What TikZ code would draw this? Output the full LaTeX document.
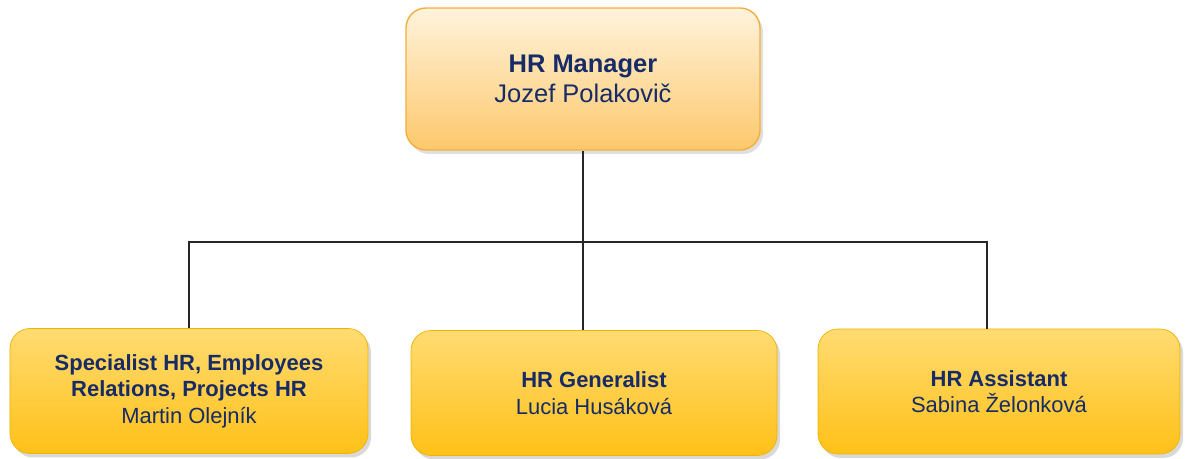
\documentclass[tikz,border=0pt]{standalone}
\usepackage{fontspec}
\setmainfont{Liberation Sans}
\usepackage{tikz}
\usetikzlibrary{positioning,shadows}
\definecolor{hrnavy}{HTML}{172B66}
\definecolor{hrtoptop}{HTML}{FFF3DC}
\definecolor{hrtopbot}{HTML}{FDC86C}
\definecolor{hrtopline}{HTML}{F5AE3C}
\definecolor{hrsubtop}{HTML}{FFDB72}
\definecolor{hrsubbot}{HTML}{FFC118}
\definecolor{hrsubline}{HTML}{EFB300}

\begin{document}
\begin{tikzpicture}[HRboss/.style={rectangle, rounded corners=4mm, draw=hrtopline, thick, top color=hrtoptop, bottom color=hrtopbot, text=hrnavy, align=center, minimum width=7.08cm, minimum height=2.84cm, font=\fontsize{14.5}{17.4}\selectfont, drop shadow={opacity=0.25, shadow xshift=0.6mm, shadow yshift=-0.8mm}},
HRstaff/.style={rectangle, rounded corners=4mm, draw=hrsubline, thin, top color=hrsubtop, bottom color=hrsubbot, text=hrnavy, align=center, minimum height=2.5cm, font=\fontsize{12.5}{15}\selectfont, drop shadow={opacity=0.3, shadow xshift=0.6mm, shadow yshift=-0.8mm}},
link/.style={draw=black!85, line width=0.6pt}]
\useasboundingbox (0,0) rectangle (23.72,9.18);
%Nodes
\node[HRboss] (boss) at (11.66,7.6) {\textbf{HR Manager}\\Jozef Polakovič};
\node[HRstaff, minimum width=7.16cm] (spec) at (3.78,1.36) {\textbf{Specialist HR, Employees}\\\textbf{Relations, Projects HR}\\Martin Olejník};
\node[HRstaff, minimum width=7.32cm] (gen) at (11.88,1.32) {\textbf{HR Generalist}\\Lucia Husáková};
\node[HRstaff, minimum width=7.24cm] (asst) at (19.98,1.35) {\textbf{HR Assistant}\\Sabina Želonková};
\coordinate (bus) at (11.66,4.34);

%Lines
\draw[link] (boss.south) -- (boss.south |- gen.north);
\draw[link] (spec.north) |- (bus) -| ([xshift=-2.4mm]asst.north);
\end{tikzpicture}
\end{document}
